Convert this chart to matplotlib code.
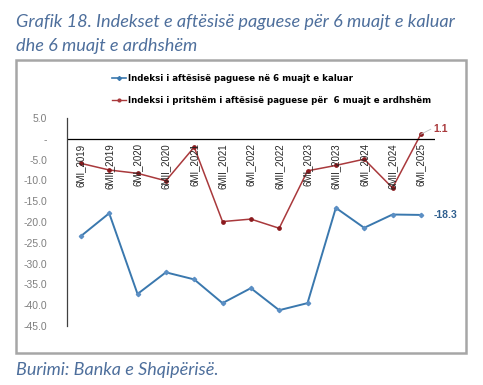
import matplotlib.pyplot as plt
from matplotlib.patches import Rectangle
from matplotlib.lines import Line2D

# dati
periudhat = ["6MI_2019", "6MII_2019", "6MI_2020", "6MII_2020", "6MI_2021",
             "6MII_2021", "6MI_2022", "6MII_2022", "6MI_2023", "6MII_2023",
             "6MI_2024", "6MII_2024", "6MI_2025"]
kaluar = [-23.4, -17.9, -37.3, -32.1, -33.8, -39.5, -35.9, -41.2, -39.5,
          -16.6, -21.4, -18.2, -18.3]
ardhshem = [-5.9, -7.5, -8.3, -10.1, -2.0, -19.9, -19.3, -21.5, -7.7,
            -6.4, -4.9, -11.8, 1.1]
yticks = [5, 0, -5, -10, -15, -20, -25, -30, -35, -40, -45]
ylabels = ["5.0", "-", "-5.0", "-10.0", "-15.0", "-20.0", "-25.0", "-30.0",
           "-35.0", "-40.0", "-45.0"]

blu = "#3A78AE"
kuq = "#A9393C"
titull = "#4E6F9C"

fig = plt.figure(figsize=(4.83, 3.85), dpi=100)

# korniza gri e grafikut
fig.patches.append(Rectangle((16 / 483, 1 - 353 / 385), 450 / 483, 293 / 385,
                             transform=fig.transFigure, fill=False,
                             edgecolor="#A6A6A6", linewidth=1.8))

ax = fig.add_axes([66.7 / 483, 1 - 326 / 385, 368.3 / 483, 208 / 385])
x = list(range(len(periudhat)))
ax.plot(x, kaluar, color=blu, linewidth=1.4, marker="D", markersize=2.2,
        markerfacecolor="#5B8FC4", markeredgecolor="#5B8FC4")
ax.plot(x, ardhshem, color=kuq, linewidth=1.1, marker="o", markersize=2.4,
        markerfacecolor="#8B1A1E", markeredgecolor="#8B1A1E")

ax.set_xlim(-0.5, len(periudhat) - 0.5)
ax.set_ylim(-45, 5)
ax.axhline(0, color="black", linewidth=0.9)
for s in ["top", "right", "bottom"]:
    ax.spines[s].set_visible(False)
ax.spines["left"].set_color("#404040")
ax.spines["left"].set_linewidth(0.9)
ax.set_xticks([])
ax.set_yticks(yticks)
ax.set_yticklabels(ylabels, color="#7F7F7F", fontsize=7.5, family="Liberation Sans")
ax.tick_params(axis="y", length=0, pad=14)

for i, p in enumerate(periudhat):
    ax.text(i, -1.1, p, rotation=90, ha="center", va="top", fontsize=7,
            family=["Liberation Sans Narrow", "Liberation Sans"], color="#262626")

# etiketat e fundit
ax.plot([12, 12.35], [1.1, 2.3], color="#BFBFBF", linewidth=0.6)
ax.text(12.45, 2.3, "1.1", color=kuq, fontsize=7.5, fontweight="bold",
        va="center", ha="left", family="Liberation Sans")
ax.text(12.45, -18.3, "-18.3", color="#2F5F8F", fontsize=7.5, fontweight="bold",
        va="center", ha="left", family="Liberation Sans")

handles = [Line2D([], [], color=blu, linewidth=1.2, marker="D", markersize=2),
           Line2D([], [], color=kuq, linewidth=1.0, marker="o", markersize=2)]
fig.legend(handles,
           ["Indeksi i aftësisë paguese në 6 muajt e kaluar",
            "Indeksi i pritshëm i aftësisë paguese për  6 muajt e ardhshëm"],
           loc="upper left", bbox_to_anchor=(104 / 483, 1 - 66 / 385),
           frameon=False, prop={"family": "DejaVu Sans", "weight": "bold", "size": 6.2},
           handlelength=1.6, handletextpad=0.3, labelspacing=1.55)

fig.text(16 / 483, 1 - 22 / 385, "Grafik 18. Indekset e aftësisë paguese për 6 muajt e kaluar",
         color=titull, fontsize=13.1, style="italic", family="Lato", va="center")
fig.text(16 / 483, 1 - 46 / 385, "dhe 6 muajt e ardhshëm",
         color=titull, fontsize=13.1, style="italic", family="Lato", va="center")
fig.text(16 / 483, 1 - 370 / 385, "Burimi: Banka e Shqipërisë.",
         color=titull, fontsize=13, style="italic", family="Lato", va="center")

fig.savefig("out.png", dpi=100)
